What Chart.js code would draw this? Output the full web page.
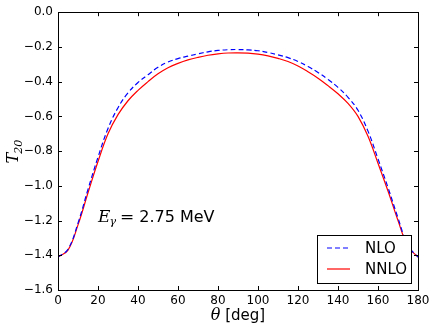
<!DOCTYPE html>
<html>
<head>
<meta charset="utf-8">
<script src="https://cdn.jsdelivr.net/npm/chart.js@4/dist/chart.umd.min.js"></script>
<style>
  html, body { margin: 0; padding: 0; background: #fff; }
  #wrap { width: 436px; height: 333px; }
</style>
</head>
<body>
<div id="wrap"><canvas id="t20Chart" width="436" height="333"></canvas></div>
<script>
// theta in degrees
const angles = [0, 5, 10, 15, 20, 25, 30, 35, 40, 45, 50, 55, 60, 65, 70, 75, 80, 85, 90,
  95, 100, 105, 110, 115, 120, 125, 130, 135, 140, 145, 150, 155, 160, 165, 170, 175, 180];

const nloValues = [-1.41, -1.365, -1.215, -1.02, -0.835, -0.67, -0.55, -0.465, -0.405, -0.36,
  -0.317, -0.287, -0.267, -0.253, -0.24, -0.228, -0.22, -0.216, -0.215,
  -0.217, -0.222, -0.232, -0.246, -0.262, -0.284, -0.313, -0.347, -0.387, -0.433,
  -0.49, -0.565, -0.685, -0.845, -1.01, -1.185, -1.345, -1.41];

const nnloValues = [-1.41, -1.37, -1.225, -1.04, -0.86, -0.70, -0.59, -0.51, -0.45, -0.40,
  -0.355, -0.32, -0.295, -0.275, -0.26, -0.248, -0.24, -0.235, -0.234,
  -0.236, -0.242, -0.252, -0.266, -0.284, -0.31, -0.343, -0.38, -0.423, -0.47,
  -0.525, -0.60, -0.715, -0.87, -1.03, -1.20, -1.35, -1.41];

const seriesLabels = ["NLO", "NNLO"];
const xTicks = [0, 20, 40, 60, 80, 100, 120, 140, 160, 180];
const yTicks = [0, -0.2, -0.4, -0.6, -0.8, -1.0, -1.2, -1.4, -1.6];

const ctx = document.getElementById("t20Chart").getContext("2d");

// marcas para dentro, moldura, textos e legenda
const mplLook = {
  id: "mplLook",
  afterDraw(chart) {
    const c = chart.ctx;
    const a = chart.chartArea;
    const xs = chart.scales.x, ys = chart.scales.y;
    c.save();
    c.strokeStyle = "#000";
    c.lineWidth = 1;
    c.beginPath();
    xTicks.forEach(v => {
      const px = Math.round(xs.getPixelForValue(v)) + 0.5;
      c.moveTo(px, a.bottom); c.lineTo(px, a.bottom - 4);
      c.moveTo(px, a.top); c.lineTo(px, a.top + 4);
    });
    yTicks.forEach(v => {
      const py = Math.round(ys.getPixelForValue(v)) + 0.5;
      c.moveTo(a.left, py); c.lineTo(a.left + 4, py);
      c.moveTo(a.right, py); c.lineTo(a.right - 4, py);
    });
    c.stroke();
    c.strokeRect(Math.round(a.left) + 0.5, Math.round(a.top) + 0.5,
      Math.round(a.right - a.left), Math.round(a.bottom - a.top));

    // titulo eixo x
    c.fillStyle = "#000";
    c.textBaseline = "alphabetic";
    const cx = (a.left + a.right) / 2;
    c.font = "italic 16px 'DejaVu Serif'";
    const thW = c.measureText("θ").width;
    c.font = "15px 'DejaVu Sans'";
    const restW = c.measureText(" [deg]").width;
    let x0 = cx - (thW + restW) / 2;
    c.font = "italic 16px 'DejaVu Serif'";
    c.textAlign = "left";
    c.fillText("θ", x0, 320);
    c.font = "15px 'DejaVu Sans'";
    c.fillText(" [deg]", x0 + thW, 320);

    // titulo eixo y
    c.save();
    c.translate(18, (a.top + a.bottom) / 2);
    c.rotate(-Math.PI / 2);
    c.font = "italic 16px 'DejaVu Serif'";
    const tW = c.measureText("T").width;
    c.font = "italic 11px 'DejaVu Serif'";
    const sW = c.measureText("20").width;
    c.font = "italic 16px 'DejaVu Serif'";
    c.fillText("T", -(tW + sW) / 2, 0);
    c.font = "italic 11px 'DejaVu Serif'";
    c.fillText("20", -(tW + sW) / 2 + tW - 1, 4);
    c.restore();

    // anotacao
    let ex = 98;
    const ey = 222;
    c.font = "italic 17px 'DejaVu Serif'";
    c.fillText("E", ex, ey);
    ex += c.measureText("E").width;
    c.font = "italic 11px 'DejaVu Serif'";
    c.fillText("γ", ex - 1, ey + 3);
    ex += c.measureText("γ").width;
    c.font = "17px 'DejaVu Serif'";
    c.fillText("=", ex + 3, ey);
    ex += c.measureText("=").width + 8;
    c.font = "16px 'DejaVu Sans'";
    c.fillText("2.75 MeV", ex, ey);

    // legenda
    const lx = 317, ly = 235, lw = 94, lh = 48;
    c.fillStyle = "#fff";
    c.fillRect(lx, ly, lw, lh);
    c.strokeStyle = "#000";
    c.strokeRect(lx + 0.5, ly + 0.5, lw, lh);
    const rows = [
      { label: seriesLabels[0], color: "#0000ff", dash: [5, 3], y: 248 },
      { label: seriesLabels[1], color: "#ff0000", dash: [], y: 269 }
    ];
    rows.forEach(r => {
      c.beginPath();
      c.setLineDash(r.dash);
      c.strokeStyle = r.color;
      c.lineWidth = 1.2;
      c.moveTo(327, r.y); c.lineTo(350, r.y);
      c.stroke();
      c.setLineDash([]);
      c.fillStyle = "#000";
      c.font = "15px 'DejaVu Sans'";
      c.textBaseline = "middle";
      c.fillText(r.label, 365, r.y + 1);
    });
    c.restore();
  }
};

const t20Chart = new Chart(ctx, {
  type: "line",
  data: {
    datasets: [
      {
        label: seriesLabels[0],
        data: angles.map((a, i) => ({ x: a, y: nloValues[i] })),
        borderColor: "#0000ff",
        borderWidth: 1.2,
        borderDash: [5, 3],
        pointRadius: 0,
        fill: false,
        tension: 0.4
      },
      {
        label: seriesLabels[1],
        data: angles.map((a, i) => ({ x: a, y: nnloValues[i] })),
        borderColor: "#ff0000",
        borderWidth: 1.2,
        pointRadius: 0,
        fill: false,
        tension: 0.4
      }
    ]
  },
  options: {
    responsive: false,
    animation: false,
    devicePixelRatio: 1,
    layout: { padding: { top: 12, right: 18, left: 0, bottom: 0 } },
    plugins: { legend: { display: false }, tooltip: { enabled: false } },
    scales: {
      x: {
        type: "linear",
        min: 0,
        max: 180,
        afterFit: s => { s.height = 43; },
        afterBuildTicks: s => { s.ticks = xTicks.map(v => ({ value: v })); },
        grid: { display: false, drawTicks: false },
        border: { display: false },
        ticks: {
          padding: 4,
          color: "#000",
          font: { family: "'DejaVu Sans'", size: 12 },
          maxRotation: 0,
          callback: v => String(v)
        }
      },
      y: {
        min: -1.6,
        max: 0,
        afterFit: s => { s.width = 58; },
        afterBuildTicks: s => { s.ticks = yTicks.map(v => ({ value: v })); },
        grid: { display: false, drawTicks: false },
        border: { display: false },
        ticks: {
          padding: 5,
          color: "#000",
          font: { family: "'DejaVu Sans'", size: 12 },
          callback: v => (Math.abs(v) < 1e-9 ? "0.0" : v.toFixed(1).replace("-", "\u2212"))
        }
      }
    }
  },
  plugins: [mplLook]
});
</script>
</body>
</html>
